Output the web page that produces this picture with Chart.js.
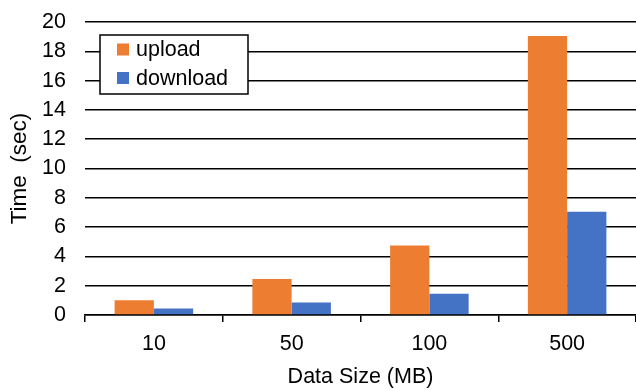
<!DOCTYPE html>
<html>
<head>
<meta charset="utf-8">
<script src="https://cdn.jsdelivr.net/npm/chart.js@4.4.1/dist/chart.umd.min.js"></script>
<style>
  html, body { margin: 0; padding: 0; background: #fff; }
  #wrap { width: 636px; height: 390px; position: relative; }
</style>
</head>
<body>
<div id="wrap"><canvas id="c"></canvas></div>
<script>
// Transfer time by data size
const categories = ['10', '50', '100', '500'];
const uploadTimes = [1.0, 2.45, 4.75, 19.05];
const downloadTimes = [0.45, 0.85, 1.45, 7.05];
const seriesNames = ['upload', 'download'];
const yTicks = [0, 2, 4, 6, 8, 10, 12, 14, 16, 18, 20];

const FONT = 'Liberation Sans, Arial, sans-serif';
const TEXT_SIZE = 21.5;
const ORANGE = '#ED7D31';
const BLUE = '#4472C4';

// Boxed legend drawn inside the plot area, top-left
const boxLegend = {
  id: 'boxLegend',
  afterDraw(chart) {
    const ctx = chart.ctx;
    const x = 100, y = 35, w = 148, h = 59;
    ctx.save();
    ctx.fillStyle = '#fff';
    ctx.fillRect(x, y, w, h);
    ctx.strokeStyle = '#000';
    ctx.lineWidth = 1.5;
    ctx.strokeRect(x, y, w, h);
    ctx.font = TEXT_SIZE + 'px ' + FONT;
    ctx.textBaseline = 'middle';
    chart.data.datasets.forEach((ds, i) => {
      const cy = y + 14.5 + i * 28.5;
      ctx.fillStyle = ds.backgroundColor;
      ctx.fillRect(x + 17, cy - 6, 12, 12);
      ctx.fillStyle = '#000';
      ctx.fillText(ds.label, x + 36, cy + 1);
    });
    ctx.restore();
  }
};

new Chart(document.getElementById('c'), {
  type: 'bar',
  data: {
    labels: categories,
    datasets: [
      { label: seriesNames[0], data: uploadTimes, backgroundColor: ORANGE },
      { label: seriesNames[1], data: downloadTimes, backgroundColor: BLUE }
    ]
  },
  options: {
    responsive: true,
    maintainAspectRatio: false,
    animation: false,
    categoryPercentage: 0.57,
    barPercentage: 1.0,
    layout: { padding: { top: 22, right: 0, left: 0, bottom: 0 } },
    plugins: {
      legend: { display: false },
      tooltip: { enabled: false }
    },
    scales: {
      x: {
        afterFit(scale) {
          scale.height = 75;
          scale.paddingLeft = 0;
          scale.paddingRight = 0;
        },
        grid: {
          display: true,
          offset: true,
          drawOnChartArea: false,
          drawTicks: true,
          tickLength: 7,
          color: '#000',
          lineWidth: 1.5
        },
        border: { display: true, color: '#000', width: 1.5 },
        ticks: {
          color: '#000',
          font: { family: FONT, size: TEXT_SIZE },
          padding: 9,
          autoSkip: false,
          maxRotation: 0
        },
        title: {
          display: true,
          text: 'Data Size (MB)',
          color: '#000',
          font: { family: FONT, size: TEXT_SIZE },
          padding: { top: 0, bottom: 0 }
        }
      },
      y: {
        min: 0,
        max: 20,
        afterFit(scale) {
          scale.width = 85;
          scale.paddingTop = 0;
          scale.paddingBottom = 0;
        },
        afterBuildTicks(scale) { scale.ticks = yTicks.map(v => ({ value: v })); },
        grid: {
          color: '#000',
          lineWidth: 1.5,
          drawTicks: false
        },
        border: { display: false },
        ticks: {
          color: '#000',
          font: { family: FONT, size: TEXT_SIZE },
          padding: 19,
          autoSkip: false
        },
        title: {
          display: true,
          text: 'Time  (sec)',
          color: '#000',
          font: { family: FONT, size: 22.5 },
          padding: { top: 6.5, bottom: 0 }
        }
      }
    }
  },
  plugins: [boxLegend]
});
</script>
</body>
</html>
